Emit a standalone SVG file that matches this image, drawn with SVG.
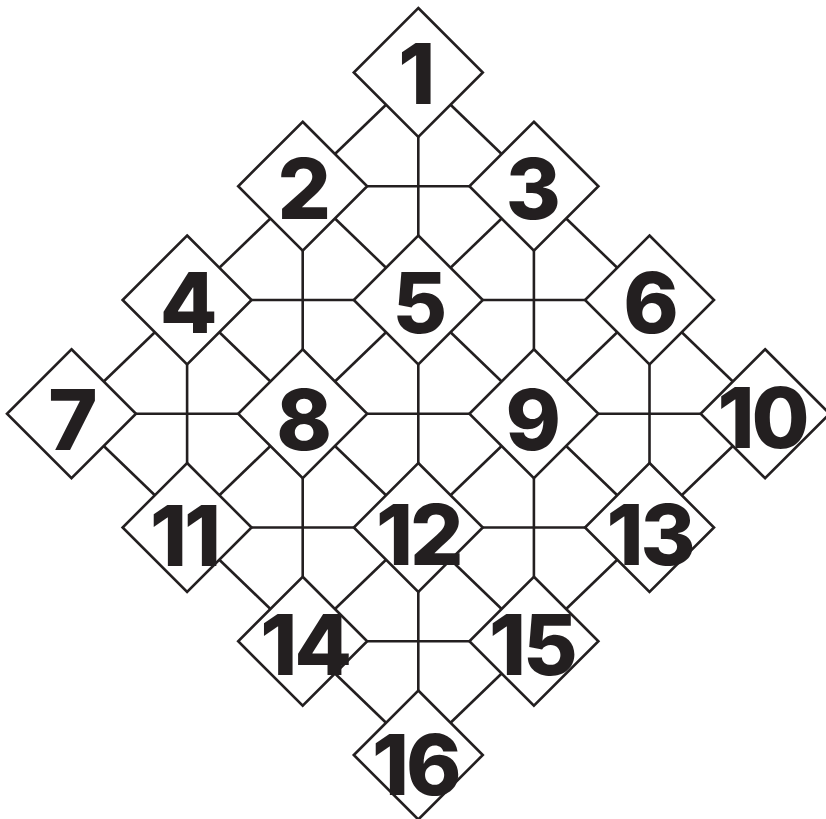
<svg xmlns="http://www.w3.org/2000/svg" width="826" height="819" viewBox="0 0 826 819">
<style>
.n text{font-family:Inter,"Liberation Sans",sans-serif;font-weight:800;font-size:84px;fill:#231f20;text-anchor:middle;letter-spacing:-3px}
#connectors line{stroke:#231f20;stroke-width:2.6;fill:none}
</style>
<rect width="826" height="819" fill="#fff"/>
<defs>
<polygon id="dia" points="0,-64.5 64.5,0 0,64.5 -64.5,0" fill="#fff" stroke="#231f20" stroke-width="2.6"/>
</defs>
<g id="connectors">
<line x1="367.2" y1="186.25" x2="469.4" y2="186.25"/>
<line x1="251.6" y1="300" x2="353.8" y2="300"/>
<line x1="482.8" y1="300" x2="585" y2="300"/>
<line x1="136" y1="413.75" x2="238.2" y2="413.75"/>
<line x1="367.2" y1="413.75" x2="469.4" y2="413.75"/>
<line x1="598.4" y1="413.75" x2="700.6" y2="413.75"/>
<line x1="251.6" y1="527.5" x2="353.8" y2="527.5"/>
<line x1="482.8" y1="527.5" x2="585" y2="527.5"/>
<line x1="367.2" y1="641.25" x2="469.4" y2="641.25"/>
<line x1="418.3" y1="137" x2="418.3" y2="235.5"/>
<line x1="302.7" y1="250.75" x2="302.7" y2="349.25"/>
<line x1="533.9" y1="250.75" x2="533.9" y2="349.25"/>
<line x1="187.1" y1="364.5" x2="187.1" y2="463"/>
<line x1="418.3" y1="364.5" x2="418.3" y2="463"/>
<line x1="649.5" y1="364.5" x2="649.5" y2="463"/>
<line x1="302.7" y1="478.25" x2="302.7" y2="576.75"/>
<line x1="533.9" y1="478.25" x2="533.9" y2="576.75"/>
<line x1="418.3" y1="592" x2="418.3" y2="690.5"/>
<line x1="386.05" y1="104.75" x2="334.95" y2="154"/>
<line x1="501.65" y1="218.5" x2="450.55" y2="267.75"/>
<line x1="270.45" y1="218.5" x2="219.35" y2="267.75"/>
<line x1="617.25" y1="332.25" x2="566.15" y2="381.5"/>
<line x1="386.05" y1="332.25" x2="334.95" y2="381.5"/>
<line x1="154.85" y1="332.25" x2="103.75" y2="381.5"/>
<line x1="732.85" y1="446" x2="681.75" y2="495.25"/>
<line x1="501.65" y1="446" x2="450.55" y2="495.25"/>
<line x1="270.45" y1="446" x2="219.35" y2="495.25"/>
<line x1="617.25" y1="559.75" x2="566.15" y2="609"/>
<line x1="386.05" y1="559.75" x2="334.95" y2="609"/>
<line x1="501.65" y1="673.5" x2="450.55" y2="722.75"/>
<line x1="450.55" y1="104.75" x2="501.65" y2="154"/>
<line x1="334.95" y1="218.5" x2="386.05" y2="267.75"/>
<line x1="566.15" y1="218.5" x2="617.25" y2="267.75"/>
<line x1="219.35" y1="332.25" x2="270.45" y2="381.5"/>
<line x1="450.55" y1="332.25" x2="501.65" y2="381.5"/>
<line x1="681.75" y1="332.25" x2="732.85" y2="381.5"/>
<line x1="103.75" y1="446" x2="154.85" y2="495.25"/>
<line x1="334.95" y1="446" x2="386.05" y2="495.25"/>
<line x1="566.15" y1="446" x2="617.25" y2="495.25"/>
<line x1="219.35" y1="559.75" x2="270.45" y2="609"/>
<line x1="450.55" y1="559.75" x2="501.65" y2="609"/>
<line x1="334.95" y1="673.5" x2="386.05" y2="722.75"/>
</g>
<g id="node1" class="n" transform="translate(418.3,72.5)"><use href="#dia"/><text x="-3" y="31">1</text></g>
<g id="node2" class="n" transform="translate(302.7,186.25)"><use href="#dia"/><text x="0" y="33">2</text></g>
<g id="node3" class="n" transform="translate(533.9,186.25)"><use href="#dia"/><text x="-2" y="33">3</text></g>
<g id="node4" class="n" transform="translate(187.1,300)"><use href="#dia"/><text x="0" y="33">4</text></g>
<g id="node5" class="n" transform="translate(418.3,300)"><use href="#dia"/><text x="0" y="33">5</text></g>
<g id="node6" class="n" transform="translate(649.5,300)"><use href="#dia"/><text x="0" y="33">6</text></g>
<g id="node7" class="n" transform="translate(71.5,413.75)"><use href="#dia"/><text x="0" y="36">7</text></g>
<g id="node8" class="n" transform="translate(302.7,413.75)"><use href="#dia"/><text x="0" y="36">8</text></g>
<g id="node9" class="n" transform="translate(533.9,413.75)"><use href="#dia"/><text x="-2" y="36">9</text></g>
<g id="node10" class="n" transform="translate(765.1,413.75)"><use href="#dia"/><text x="-3" y="34">10</text></g>
<g id="node11" class="n" transform="translate(187.1,527.5)"><use href="#dia"/><text x="-3" y="38">11</text></g>
<g id="node12" class="n" transform="translate(418.3,527.5)"><use href="#dia"/><text x="0" y="37">12</text></g>
<g id="node13" class="n" transform="translate(649.5,527.5)"><use href="#dia"/><text x="0" y="37">13</text></g>
<g id="node14" class="n" transform="translate(302.7,641.25)"><use href="#dia"/><text x="2" y="34">14</text></g>
<g id="node15" class="n" transform="translate(533.9,641.25)"><use href="#dia"/><text x="-2" y="34">15</text></g>
<g id="node16" class="n" transform="translate(418.3,755)"><use href="#dia"/><text x="-3" y="40">16</text></g>
</svg>
